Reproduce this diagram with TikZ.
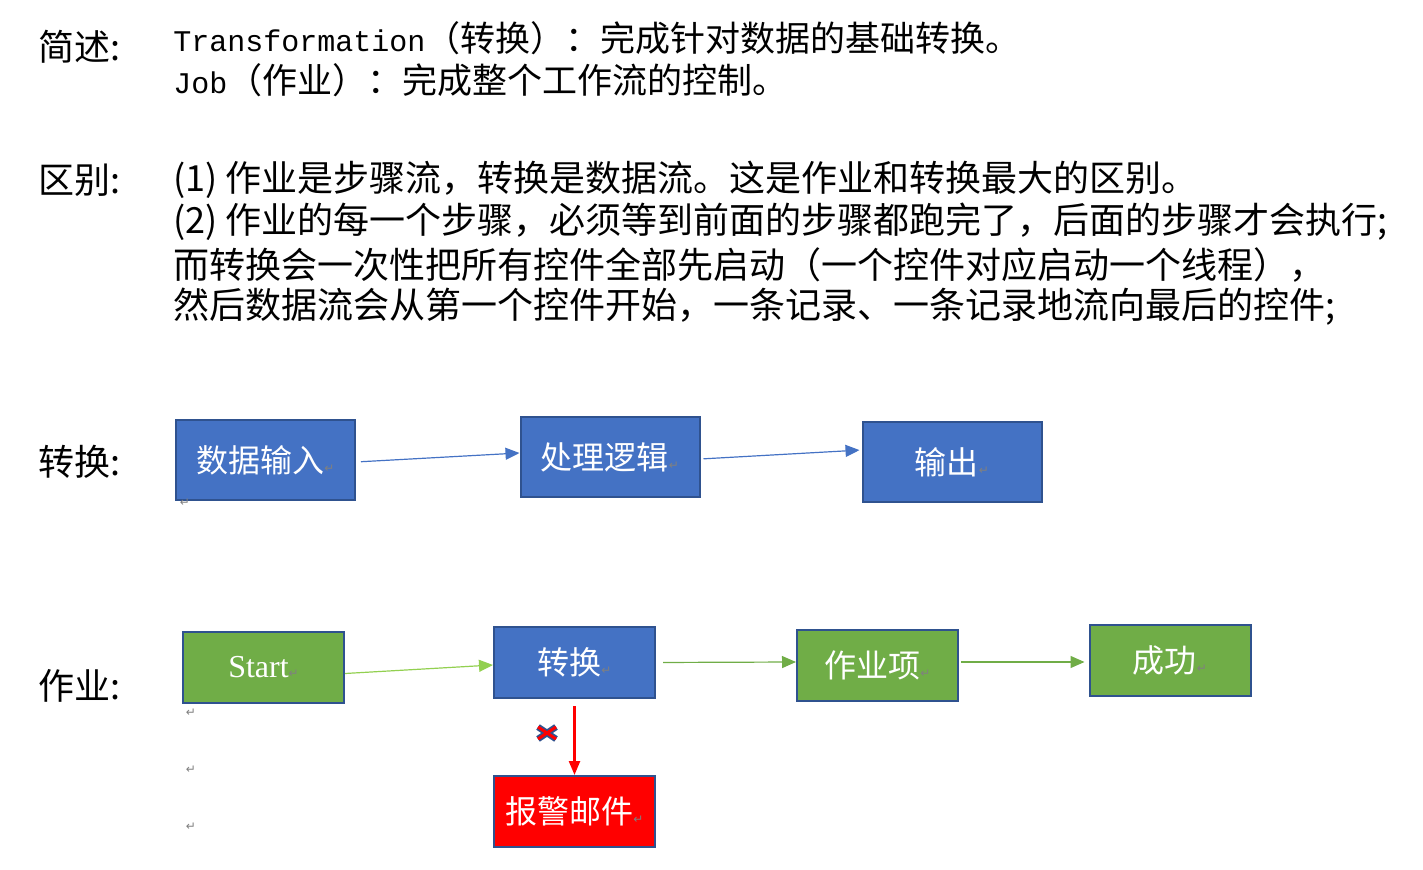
\documentclass[tikz,border=0pt]{standalone}
\usepackage{fontspec}
\setmainfont{Noto Sans CJK SC}
\newfontfamily\monofont{Liberation Mono}
\newfontfamily\timesfont{Liberation Serif}
\newfontfamily\symfont{DejaVu Sans}
\usetikzlibrary{arrows.meta}
\definecolor{boxblue}{HTML}{4472C4}
\definecolor{edgeblue}{HTML}{2F528F}
\definecolor{boxgreen}{HTML}{70AD47}
\definecolor{lightgreen}{HTML}{92D050}
\definecolor{markgray}{HTML}{808080}
\newcommand{\retmark}{{\symfont\fontsize{6}{6}\selectfont\textcolor{markgray}{↵}}}
\newcommand{\latin}[1]{{\monofont\fontsize{15}{15}\selectfont #1}}

\begin{document}
\begin{tikzpicture}[x=0.5pt,y=-0.5pt,
	txt/.style={anchor=west,inner sep=0pt,font=\fontsize{18}{18}\selectfont},
	topline/.style={anchor=west,inner sep=0pt,font=\fontsize{17.5}{17.5}\selectfont},
	tbox/.style={draw=edgeblue,line width=1pt,fill=boxblue,text=white,inner sep=0pt,
		minimum width=89.5pt,minimum height=40pt,font=\fontsize{16}{16}\selectfont},
	jbox/.style={tbox,minimum width=80.5pt,minimum height=35.5pt},
	arr/.style={-{Triangle[length=7pt,width=6pt]},line width=0.6pt},
	ret/.style={inner sep=0pt}]
	\useasboundingbox (0,0) rectangle (1423,870);
	\node[txt] (brief) at (38,47) {简述:};
	\node[topline] (brief1) at (173,38) {\latin{Transformation}（转换）：完成针对数据的基础转换。};
	\node[topline] (brief2) at (173,80) {\latin{Job}（作业）：完成整个工作流的控制。};
	\node[txt] (diff) at (38,180) {区别:};
	\node[txt] (diff1) at (173,180) {(1) 作业是步骤流，转换是数据流。这是作业和转换最大的区别。};
	\node[txt] (diff2) at (173,222) {(2) 作业的每一个步骤，必须等到前面的步骤都跑完了，后面的步骤才会执行;};
	\node[txt] (diff3) at (173,265) {而转换会一次性把所有控件全部先启动（一个控件对应启动一个线程），};
	\node[txt] (diff4) at (173,307) {然后数据流会从第一个控件开始，一条记录、一条记录地流向最后的控件;};
	\node[txt] (convlabel) at (38,462) {转换:};
	\node[txt] (joblabel) at (38,686) {作业:};
	\node[tbox] (input) at (265.5,460) {数据输入\retmark};
	\node[tbox] (logic) at (610,457) {处理逻辑\retmark};
	\node[tbox] (output) at (952,462) {输出\retmark};
	\draw[arr,boxblue,shorten <=2.5pt] ([yshift=-1pt]input.east) -- ([yshift=2pt]logic.west);
	\draw[arr,boxblue,shorten <=1.5pt,shorten >=1pt] ([yshift=-1pt]logic.east) -- ([yshift=6pt]output.west);
	\node[ret] (ret1) at (185,503) {\retmark};
	\node[jbox,fill=boxgreen] (start) at (263.5,667.5) {{\timesfont Start}\retmark};
	\node[jbox] (trans) at (574.5,662.5) {转换\retmark};
	\node[jbox,fill=boxgreen] (item) at (877.5,665.5) {作业项\retmark};
	\node[jbox,fill=boxgreen] (success) at (1170,660.5) {成功\retmark};
	\node[jbox,fill=red] (mail) at (574.5,811.5) {报警邮件\retmark};
	\draw[arr,lightgreen] ([yshift=-3pt]start.east) -- ([yshift=-1.25pt]trans.west);
	\draw[arr,boxgreen,shorten <=3.5pt] (trans.east) -- ([yshift=1.75pt]item.west);
	\draw[arr,boxgreen,shorten <=1pt,shorten >=2pt] ([yshift=1.75pt]item.east) -- ([yshift=-0.75pt]success.west);
	\draw[red,line width=1.2pt,-{Triangle[length=7pt,width=5.5pt]},shorten <=3.5pt] (trans.south) -- (mail.north);
	\coordinate (cross) at (547,733);
	\draw[edgeblue,line width=3.2pt] ([shift={(-9,-6)}]cross) -- ([shift={(9,6)}]cross) ([shift={(-9,6)}]cross) -- ([shift={(9,-6)}]cross);
	\draw[red,line width=1.5pt] ([shift={(-9,-6)}]cross) -- ([shift={(9,6)}]cross) ([shift={(-9,6)}]cross) -- ([shift={(9,-6)}]cross);
	\foreach \y [count=\i from 2] in {713,770,827}
		\node[ret] (ret\i) at (191,\y) {\retmark};
\end{tikzpicture}
\end{document}
